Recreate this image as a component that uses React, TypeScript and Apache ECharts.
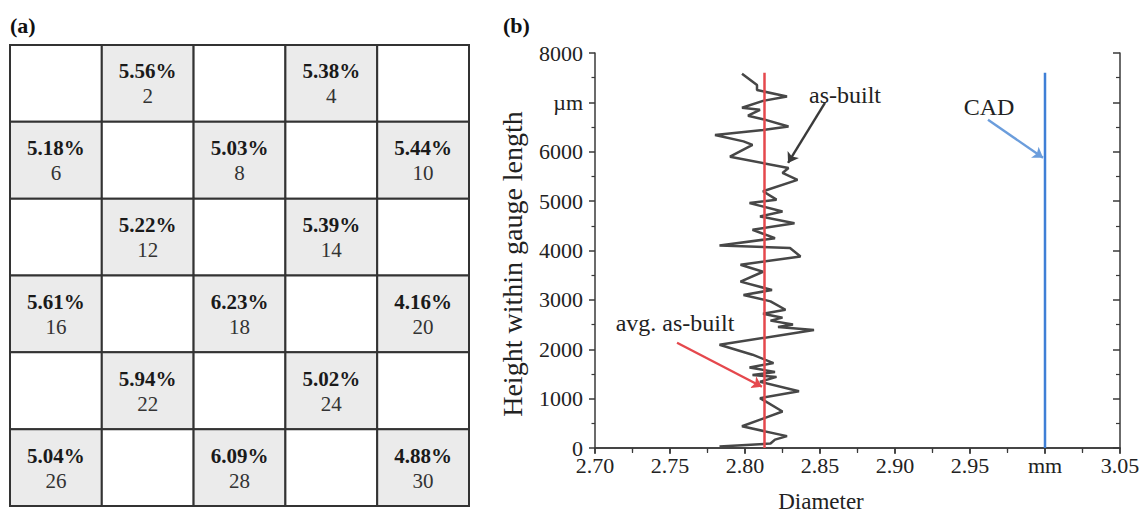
import React, { useEffect, useRef } from 'react';
import * as echarts from 'echarts';

// ---------- Panel (a): sample grid ----------
const tableCols = ['c1', 'c2', 'c3', 'c4', 'c5'];
const tableRows = ['r1', 'r2', 'r3', 'r4', 'r5', 'r6'];
const sampleIds = [2, 4, 6, 8, 10, 12, 14, 16, 18, 20, 22, 24, 26, 28, 30];
const porosity = [5.56, 5.38, 5.18, 5.03, 5.44, 5.22, 5.39, 5.61, 6.23, 4.16, 5.94, 5.02, 5.04, 6.09, 4.88];

// ---------- Panel (b): diameter profile ----------
const xTickLabels = ['2.70', '2.75', '2.80', '2.85', '2.90', '2.95', 'mm', '3.05'];
const yTickLabels = ['0', '1000', '2000', '3000', '4000', '5000', '6000', 'µm', '8000'];

const asBuiltDiameter = [
  2.798, 2.808, 2.808, 2.828, 2.812, 2.798, 2.810, 2.802, 2.812, 2.829,
  2.812, 2.780, 2.799, 2.805, 2.790, 2.829, 2.825, 2.835, 2.812, 2.821,
  2.803, 2.825, 2.810, 2.833, 2.805, 2.820, 2.783, 2.830, 2.837, 2.797,
  2.812, 2.797, 2.818, 2.799, 2.817, 2.827, 2.812, 2.825, 2.817, 2.832,
  2.822, 2.846, 2.783, 2.805, 2.819, 2.803, 2.820, 2.805, 2.821, 2.810,
  2.836, 2.810, 2.825, 2.798, 2.828, 2.820, 2.817, 2.783,
];
const asBuiltHeight = [
  7580, 7350, 7250, 7120, 7030, 6890, 6850, 6730, 6660, 6510,
  6440, 6340, 6210, 6140, 5900, 5670, 5570, 5430, 5200, 5030,
  4960, 4790, 4690, 4550, 4420, 4250, 4100, 4050, 3880, 3710,
  3570, 3370, 3200, 3100, 2970, 2800, 2720, 2640, 2580, 2500,
  2450, 2390, 2090, 1890, 1720, 1630, 1540, 1480, 1440, 1340,
  1150, 1010, 740, 440, 240, 170, 90, 30,
];
const avgDiameter = 2.813;
const cadDiameter = 3.0;
const profileSpan = [0, 7600];

const FONT = 'Liberation Serif';
const AXIS_COLOR = '#3a3a3a';

export default function App() {
  const ref = useRef<HTMLDivElement>(null);

  useEffect(() => {
    if (!ref.current) return;
    const chart = echarts.init(ref.current, null, { renderer: 'svg' });

    const cells: number[][] = [];
    for (let i = 0; i < tableCols.length * tableRows.length; i++) {
      const id = i + 1;
      const k = sampleIds.indexOf(id);
      cells.push([i % tableCols.length, Math.floor(i / tableCols.length), id, k >= 0 ? porosity[k] : 0]);
    }

    const asBuilt = asBuiltDiameter.map((d, i) => [d, asBuiltHeight[i]]);

    const mainTick = { show: true, inside: false, length: 6, lineStyle: { color: AXIS_COLOR, width: 1.5 } };
    const minorTick = { show: true, splitNumber: 2, length: 3.5, lineStyle: { color: AXIS_COLOR, width: 1.2 } };
    const axisLine = { show: true, lineStyle: { color: AXIS_COLOR, width: 1.5 } };

    const option: any = {
      animation: false,
      backgroundColor: '#ffffff',
      grid: [
        { left: 10, top: 45, width: 459, height: 461 },
        { left: 595, top: 53, width: 525, height: 395 },
      ],
      xAxis: [
        { type: 'category', gridIndex: 0, data: tableCols, show: false },
        {
          type: 'value', gridIndex: 1, min: 2.7, max: 3.05, interval: 0.05, position: 'bottom',
          axisLine, axisTick: mainTick, minorTick, splitLine: { show: false },
          axisLabel: {
            margin: 9, color: '#222', fontFamily: FONT, fontSize: 22, lineHeight: 17,
            formatter: (v: number) => xTickLabels[Math.round((v - 2.7) / 0.05)] ?? '',
          },
        },
        {
          type: 'value', gridIndex: 1, min: 2.7, max: 3.05, interval: 0.05, position: 'top',
          axisLine, axisTick: { ...mainTick, inside: true, length: 5 },
          minorTick: { ...minorTick, length: 5 }, axisLabel: { show: false }, splitLine: { show: false },
        },
      ],
      yAxis: [
        { type: 'category', gridIndex: 0, data: tableRows, inverse: true, show: false },
        {
          type: 'value', gridIndex: 1, min: 0, max: 8000, interval: 1000, position: 'left',
          axisLine, axisTick: mainTick, minorTick, splitLine: { show: false },
          axisLabel: {
            margin: 12, color: '#222', fontFamily: FONT, fontSize: 22, lineHeight: 16,
            formatter: (v: number) => yTickLabels[Math.round(v / 1000)] ?? '',
          },
        },
        {
          type: 'value', gridIndex: 1, min: 0, max: 8000, interval: 1000, position: 'right',
          axisLine, axisTick: { ...mainTick, inside: true, length: 7 },
          minorTick: { ...minorTick, length: 4 }, axisLabel: { show: false }, splitLine: { show: false },
        },
      ],
      series: [
        {
          type: 'custom',
          xAxisIndex: 0,
          yAxisIndex: 0,
          data: cells,
          silent: true,
          renderItem: (params: any, api: any) => {
            const col = api.value(0);
            const row = api.value(1);
            const id = api.value(2);
            const pct = api.value(3);
            const c = api.coord([col, row]);
            const s = api.size([1, 1]);
            const shaded = pct > 0;
            const children: any[] = [
              {
                type: 'rect',
                shape: { x: c[0] - s[0] / 2, y: c[1] - s[1] / 2, width: s[0], height: s[1] },
                style: { fill: shaded ? '#ebebeb' : '#ffffff', stroke: '#333333', lineWidth: 2 },
              },
            ];
            if (shaded) {
              children.push({
                type: 'text',
                x: c[0], y: c[1] - 12,
                style: {
                  text: pct.toFixed(2) + '%', fontFamily: FONT, fontSize: 21, fontWeight: 'bold',
                  fill: '#1a1a1a', align: 'center', verticalAlign: 'middle',
                },
              });
              children.push({
                type: 'text',
                x: c[0], y: c[1] + 13,
                style: {
                  text: String(id), fontFamily: FONT, fontSize: 21,
                  fill: '#333333', align: 'center', verticalAlign: 'middle',
                },
              });
            }
            return { type: 'group', children };
          },
        },
        {
          name: 'as-built',
          type: 'line',
          xAxisIndex: 1,
          yAxisIndex: 1,
          data: asBuilt,
          showSymbol: false,
          lineStyle: { color: '#474747', width: 2.5 },
          z: 3,
          markLine: {
            silent: true, symbol: ['none', 'arrow'], symbolSize: 10,
            label: { show: false },
            lineStyle: { color: '#3a3a3a', width: 2.4, type: 'solid' },
            data: [[{ coord: [2.8533, 6988] }, { coord: [2.8287, 5774] }]],
          },
        },
        {
          name: 'avg. as-built',
          type: 'line',
          xAxisIndex: 1,
          yAxisIndex: 1,
          data: profileSpan.map((h) => [avgDiameter, h]),
          showSymbol: false,
          lineStyle: { color: '#e5484d', width: 2.5 },
          z: 4,
          markLine: {
            silent: true, symbol: ['none', 'arrow'], symbolSize: 10,
            label: { show: false },
            lineStyle: { color: '#e5484d', width: 2.4, type: 'solid' },
            data: [[{ coord: [2.7547, 2131] }, { coord: [2.8113, 1241] }]],
          },
        },
        {
          name: 'CAD',
          type: 'line',
          xAxisIndex: 1,
          yAxisIndex: 1,
          data: profileSpan.map((h) => [cadDiameter, h]),
          showSymbol: false,
          lineStyle: { color: '#3f7fd6', width: 2.5 },
          z: 4,
          markLine: {
            silent: true, symbol: ['none', 'arrow'], symbolSize: 10,
            label: { show: false },
            lineStyle: { color: '#6b9ddc', width: 2.4, type: 'solid' },
            data: [[{ coord: [2.962, 6646] }, { coord: [2.9987, 5877] }]],
          },
        },
      ],
      graphic: [
        { type: 'text', left: 10, top: 14, style: { text: '(a)', fontFamily: FONT, fontSize: 22, fontWeight: 'bold', fill: '#111' } },
        { type: 'text', left: 503, top: 14, style: { text: '(b)', fontFamily: FONT, fontSize: 22, fontWeight: 'bold', fill: '#111' } },
        {
          type: 'text', x: 512, y: 264, rotation: Math.PI / 2,
          style: { text: 'Height within gauge length', fontFamily: FONT, fontSize: 28, fill: '#222', align: 'center', verticalAlign: 'middle' },
        },
        {
          type: 'text', x: 821, y: 501,
          style: { text: 'Diameter', fontFamily: FONT, fontSize: 23, fill: '#222', align: 'center', verticalAlign: 'middle' },
        },
        {
          type: 'text', x: 845, y: 95,
          style: { text: 'as-built', fontFamily: FONT, fontSize: 24, fill: '#222', align: 'center', verticalAlign: 'middle' },
        },
        {
          type: 'text', x: 989, y: 107,
          style: { text: 'CAD', fontFamily: FONT, fontSize: 24, fill: '#222', align: 'center', verticalAlign: 'middle' },
        },
        {
          type: 'text', x: 675, y: 323,
          style: { text: 'avg. as-built', fontFamily: FONT, fontSize: 24, fill: '#222', align: 'center', verticalAlign: 'middle' },
        },
      ],
    };

    chart.setOption(option);
    return () => chart.dispose();
  }, []);

  return (
    <div
      ref={ref}
      style={{ position: 'fixed', left: 0, top: 0, width: 1146, height: 512, background: '#fff' }}
    />
  );
}
